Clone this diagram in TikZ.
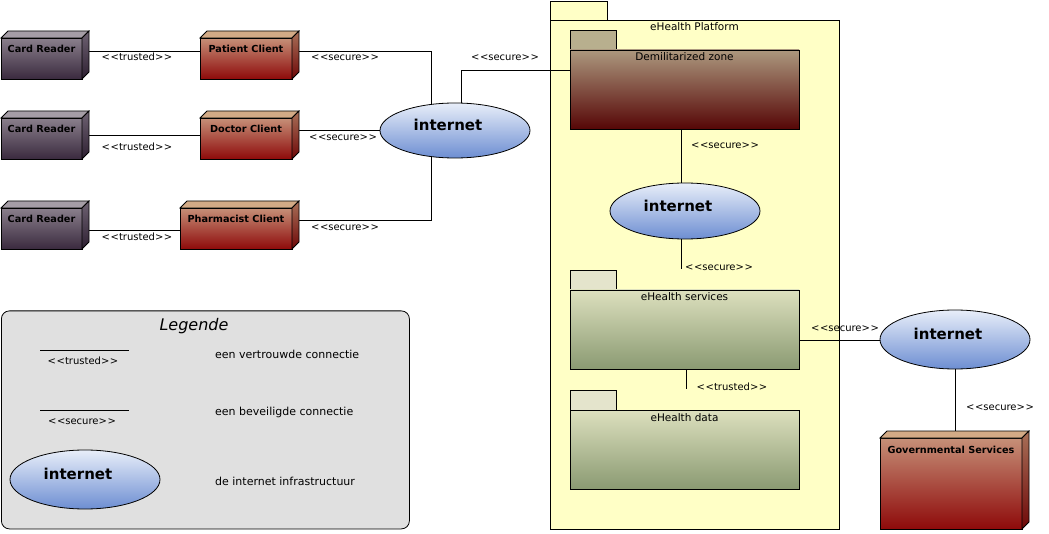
\documentclass[tikz,border=0pt]{standalone}
\usepackage{fontspec}
\setmainfont{DejaVu Sans}
\usetikzlibrary{calc,backgrounds,shapes.geometric}
\newcommand\stereo[1]{<\kern0.6pt<#1>\kern0.6pt>}
\newcommand\cubefaces[5]{%
  \path[draw=black, line width=0.8pt, fill=#3] (#1.north west) -- ++(#2,-#2) -- ($(#1.north east)+(#2,-#2)$) -- (#1.north east) -- cycle;
  \path[draw=black, line width=0.8pt, top color=#4, bottom color=#5] (#1.north east) -- ++(#2,-#2) -- ($(#1.south east)+(#2,-#2)$) -- (#1.south east) -- cycle;}
\definecolor{crtop}{HTML}{8A7F8C}
\definecolor{crbot}{HTML}{3A2A3E}
\definecolor{crface}{HTML}{A59DA6}
\definecolor{crside1}{HTML}{6E6272}
\definecolor{crside2}{HTML}{2E2032}
\definecolor{cltop}{HTML}{C69078}
\definecolor{clbot}{HTML}{8E0A0A}
\definecolor{clface}{HTML}{D2AA86}
\definecolor{clside1}{HTML}{A87058}
\definecolor{clside2}{HTML}{6E0808}
\definecolor{platform}{HTML}{FFFFC6}
\definecolor{dmztab}{HTML}{B8AF8E}
\definecolor{dmztop}{HTML}{AC987E}
\definecolor{dmzbot}{HTML}{560606}
\definecolor{svctab}{HTML}{E4E4CC}
\definecolor{svctop}{HTML}{DDE0BE}
\definecolor{svcbot}{HTML}{8A9A72}
\definecolor{nettop}{HTML}{E8EEF9}
\definecolor{netbot}{HTML}{6D8ED2}
\definecolor{legfill}{HTML}{E0E0E0}
\tikzset{
 conn/.style={draw=black, line width=0.8pt},
 lab/.style={font=\fontsize{10}{12}\selectfont, inner sep=0pt, anchor=base},
 desc/.style={font=\fontsize{11}{13}\selectfont, inner sep=0pt, anchor=base west},
 front/.style={draw=black, line width=0.8pt, anchor=north west, inner sep=0pt, outer sep=0pt},
 cardfront/.style={front, top color=crtop, bottom color=crbot},
 clientfront/.style={front, top color=cltop, bottom color=clbot},
 nodetext/.style={anchor=base, yshift=-15pt, font=\bfseries\fontsize{9.7}{11}\selectfont, inner sep=0pt},
 pkgbody/.style={draw=black, line width=0.8pt, anchor=north west, inner sep=0pt, outer sep=0pt},
 pkgtitle/.style={anchor=base, yshift=-11pt, font=\fontsize{10.5}{12}\selectfont, inner sep=0pt},
 cloud/.style={ellipse, draw=black, line width=0.8pt, top color=nettop, bottom color=netbot, minimum width=150pt, inner sep=0pt},
 cloudtext/.style={xshift=-7pt, yshift=5.5pt, font=\bfseries\fontsize{15}{18}\selectfont, inner sep=0pt},
}
\begin{document}
\begin{tikzpicture}[x=1pt,y=-1pt]
\useasboundingbox (0,0) rectangle (1049,534);
% platform (background)
\begin{pgfonlayer}{background}
\node[pkgbody, fill=platform, minimum width=57pt, minimum height=19pt] (plattab) at (550,1) {};
\node[pkgbody, fill=platform, minimum width=289pt, minimum height=509pt,
      label={[pkgtitle]north:eHealth Platform}] (plat) at (550,20) {};
\end{pgfonlayer}
% card readers
\node[cardfront, minimum width=81pt, minimum height=41pt, label={[nodetext]north:Card Reader}] (cr1) at (1,38) {};
\node[cardfront, minimum width=81pt, minimum height=41pt, label={[nodetext]north:Card Reader}] (cr2) at (1,118) {};
\node[cardfront, minimum width=81pt, minimum height=41pt, label={[nodetext]north:Card Reader}] (cr3) at (1,208) {};
\cubefaces{cr1}{7}{crface}{crside1}{crside2}
\cubefaces{cr2}{7}{crface}{crside1}{crside2}
\cubefaces{cr3}{7}{crface}{crside1}{crside2}
% clients
\node[clientfront, minimum width=92pt, minimum height=41pt, label={[nodetext]north:Patient Client}] (pc) at (200,38) {};
\node[clientfront, minimum width=92pt, minimum height=41pt, label={[nodetext]north:Doctor Client}] (dc) at (200,118) {};
\node[clientfront, minimum width=112pt, minimum height=41pt, label={[nodetext]north:Pharmacist Client}] (ph) at (180,208) {};
\cubefaces{pc}{7}{clface}{clside1}{clside2}
\cubefaces{dc}{7}{clface}{clside1}{clside2}
\cubefaces{ph}{7}{clface}{clside1}{clside2}
% governmental
\node[clientfront, minimum width=142pt, minimum height=91pt, label={[nodetext]north:Governmental Services}] (gov) at (880,438) {};
\cubefaces{gov}{7}{clface}{clside1}{clside2}
% internets
\node[cloud, minimum height=55pt, label={[cloudtext]center:internet}] (inet1) at (455,130.5) {};
\node[cloud, minimum height=56pt, label={[cloudtext]center:internet}] (inet2) at (685,211) {};
\node[cloud, minimum height=59pt, label={[cloudtext]center:internet}] (inet3) at (955,339.5) {};
% packages
\node[pkgbody, fill=dmztab, minimum width=46pt, minimum height=20pt] (dmztab) at (570,30) {};
\node[pkgbody, top color=dmztop, bottom color=dmzbot, minimum width=229pt, minimum height=79pt,
      label={[pkgtitle]north:Demilitarized zone}] (dmz) at (570,50) {};
\node[pkgbody, fill=svctab, minimum width=46pt, minimum height=20pt] (svctab) at (570,270) {};
\node[pkgbody, top color=svctop, bottom color=svcbot, minimum width=229pt, minimum height=79pt,
      label={[pkgtitle]north:eHealth services}] (svc) at (570,290) {};
\node[pkgbody, fill=svctab, minimum width=46pt, minimum height=20pt] (datatab) at (570,390) {};
\node[pkgbody, top color=svctop, bottom color=svcbot, minimum width=229pt, minimum height=79pt,
      label={[pkgtitle]north:eHealth data}] (data) at (570,410) {};
% connectors
\begin{pgfonlayer}{background}
\draw[conn] ([xshift=7pt,yshift=7.5pt]cr1.east) -- ([yshift=7.5pt]pc.west);
\draw[conn] ([xshift=7pt,yshift=3.5pt]cr2.east) -- ([yshift=3.5pt]dc.west);
\draw[conn] ([xshift=7pt,yshift=-1.5pt]cr3.east) -- ([yshift=-1.5pt]ph.west);
\draw[conn] ([xshift=7pt,yshift=7.5pt]pc.east) -| ([xshift=-24pt]inet1.center);
\draw[conn] ([xshift=7pt,yshift=8.5pt]dc.east) -- ([xshift=7pt,yshift=8.5pt]dc.east -| inet1.center);
\draw[conn] ([xshift=7pt,yshift=8.5pt]ph.east) -| ([xshift=-24pt]inet1.center);
\draw[conn] ([xshift=6pt]inet1.center) |- ([yshift=19.5pt]dmz.west);
\draw[conn] ([xshift=-4pt]inet2.center |- dmz.south) -- ([xshift=-4pt]inet2.center);
\draw[conn] ([xshift=-4pt]inet2.center) -- ([xshift=-4pt,yshift=21pt]inet2.center |- svc.north);
\draw[conn] ([xshift=1.5pt]svc.south) -- ([xshift=1.5pt,yshift=21pt]data.north);
\draw[conn] ([yshift=-10.5pt]svc.east) -- ([yshift=-10.5pt]svc.east -| inet3.center);
\draw[conn] (inet3.center) -- ([yshift=7pt]gov.north -| inet3.center);
\end{pgfonlayer}
% connector labels
\node[lab] (lt1) at (137,61) {\stereo{trusted}};
\node[lab] (lt2) at (137,151) {\stereo{trusted}};
\node[lab] (lt3) at (137,241) {\stereo{trusted}};
\node[lab] (ls1) at (345,61) {\stereo{secure}};
\node[lab] (ls2) at (343,141) {\stereo{secure}};
\node[lab] (ls3) at (345,231) {\stereo{secure}};
\node[lab] (ls4) at (505,61) {\stereo{secure}};
\node[lab] (ls5) at (725,149) {\stereo{secure}};
\node[lab] (ls6) at (719,271) {\stereo{secure}};
\node[lab] (lt4) at (732,390) {\stereo{trusted}};
\node[lab] (ls7) at (845,332) {\stereo{secure}};
\node[lab] (ls8) at (1000,410) {\stereo{secure}};
% legend
\node[draw=black, line width=0.8pt, rounded corners=8pt, fill=legfill, anchor=north west,
      minimum width=408pt, minimum height=218pt, inner sep=0pt] (legend) at (1,310.5) {};
\node[font=\itshape\fontsize{16}{19}\selectfont, inner sep=0pt, anchor=base] (legtitle) at (194,331) {Legende};
\coordinate (lta) at (40,350); \coordinate (ltb) at (129,350);
\coordinate (lsa) at (40,410); \coordinate (lsb) at (129,410);
\draw[conn] (lta) -- (ltb);
\draw[conn] (lsa) -- (lsb);
\node[lab] (legt) at (83,364) {\stereo{trusted}};
\node[lab] (legs) at (82,424) {\stereo{secure}};
\node[cloud, minimum height=59pt, label={[cloudtext]center:internet}] (legnet) at (85,479.5) {};
\node[desc] (d1) at (215,359) {een vertrouwde connectie};
\node[desc] (d2) at (215,415) {een beveiligde connectie};
\node[desc] (d3) at (215,485) {de internet infrastructuur};
\end{tikzpicture}
\end{document}
